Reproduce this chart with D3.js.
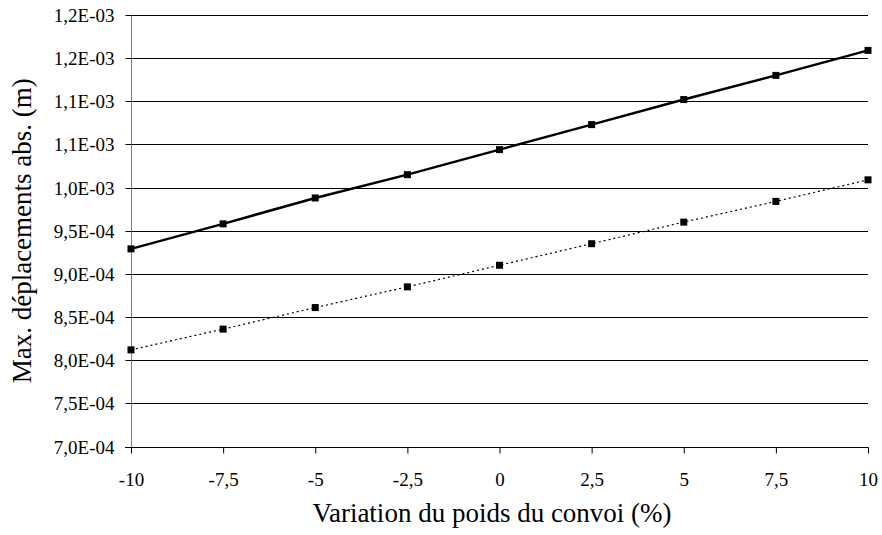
<!DOCTYPE html>
<html><head><meta charset="utf-8">
<script src="https://cdn.jsdelivr.net/npm/d3@7"></script>
<style>body{margin:0;background:#fff}svg{display:block}text{font-family:"Liberation Serif","Times New Roman",Times,serif;fill:#000}</style>
</head><body>
<svg id="c" width="882" height="535" font-family="Liberation Serif, Times New Roman, serif"></svg>
<script>
const xValues = [-10, -7.5, -5, -2.5, 0, 2.5, 5, 7.5, 10];
const seriesSolid = [9.29e-4, 9.58e-4, 9.88e-4, 10.15e-4, 10.44e-4, 10.73e-4, 11.02e-4, 11.30e-4, 11.59e-4];
const seriesDotted = [8.12e-4, 8.36e-4, 8.61e-4, 8.85e-4, 9.10e-4, 9.35e-4, 9.60e-4, 9.84e-4, 10.09e-4];
const yTicks = [7.0e-4, 7.5e-4, 8.0e-4, 8.5e-4, 9.0e-4, 9.5e-4, 10.0e-4, 10.5e-4, 11.0e-4, 11.5e-4, 12.0e-4];
const yTickLabels = ["7,0E-04","7,5E-04","8,0E-04","8,5E-04","9,0E-04","9,5E-04","1,0E-03","1,1E-03","1,1E-03","1,2E-03","1,2E-03"];
const xTickLabels = ["-10","-7,5","-5","-2,5","0","2,5","5","7,5","10"];
const xTitle = "Variation du poids du convoi (%)";
const yTitle = "Max. déplacements abs. (m)";

const FONT = '"Liberation Serif","Times New Roman",Times,serif';
const svg = d3.select("#c");
const L = 131, R = 868, T = 15, B = 446.5;
const x = d3.scaleLinear().domain([-10, 10]).range([L, R]);
const y = d3.scaleLinear().domain([7.0e-4, 12.0e-4]).range([B, T]);

// gridlines
svg.append("g").selectAll("line").data(yTicks.slice(1)).join("line")
  .attr("x1", L).attr("x2", R)
  .attr("y1", d => Math.round(y(d)) + 0.5).attr("y2", d => Math.round(y(d)) + 0.5)
  .attr("stroke", "#000").attr("stroke-width", 1);

// y axis
const yAxis = d3.axisLeft(y).tickValues(yTicks).tickSize(6).tickPadding(11)
  .tickFormat((d, i) => yTickLabels[i]);
const gy = svg.append("g").attr("transform", `translate(${L + 0.5},0)`).call(yAxis)
  .attr("font-family", FONT).attr("font-size", 19);
gy.select(".domain").attr("stroke", "#808080").attr("d", `M0,${T}V${B + 6}`);
gy.selectAll(".tick line").attr("stroke", "#000");
gy.selectAll(".tick").attr("transform", d => `translate(0,${Math.round(y(d)) + 0.5})`);
gy.selectAll("text").attr("dy", "0.36em").style("font-size", "19px").style("font-family", FONT);

// x axis
const xAxis = d3.axisBottom(x).tickValues(xValues).tickSize(6).tickPadding(9)
  .tickFormat((d, i) => xTickLabels[i]);
const gx = svg.append("g").attr("transform", `translate(0,${Math.round(B) + 0.5})`).call(xAxis)
  .attr("font-family", FONT).attr("font-size", 19);
gx.select(".domain").attr("stroke", "#000").attr("d", `M${L - 6},0H${R + 0.5}`);
gx.selectAll(".tick line").attr("stroke", "#000");
gx.selectAll("text").attr("y", 38.5).attr("dy", 0).style("font-size", "19px").style("font-family", FONT);

// lines
const line = d3.line().x((d, i) => x(xValues[i])).y(d => y(d));
svg.append("path").datum(seriesSolid).attr("d", line)
  .attr("fill", "none").attr("stroke", "#000").attr("stroke-width", 2.5);
svg.append("path").datum(seriesDotted).attr("d", line)
  .attr("fill", "none").attr("stroke", "#000").attr("stroke-width", 1.2)
  .attr("stroke-dasharray", "2,3");

// markers
const ms = 7;
[seriesSolid, seriesDotted].forEach(s => {
  svg.append("g").selectAll("rect").data(s).join("rect")
    .attr("x", (d, i) => x(xValues[i]) - ms / 2).attr("y", d => y(d) - ms / 2)
    .attr("width", ms).attr("height", ms).attr("fill", "#000");
});

// titles
svg.append("text").attr("x", 492).attr("y", 522).attr("text-anchor", "middle")
  .style("font-family", FONT).style("font-size", "27px").text(xTitle);
svg.append("text").attr("transform", `translate(31,${(T + B) / 2}) rotate(-90)`)
  .attr("text-anchor", "middle").style("font-family", FONT).style("font-size", "27px").text(yTitle);
</script>
</body></html>
